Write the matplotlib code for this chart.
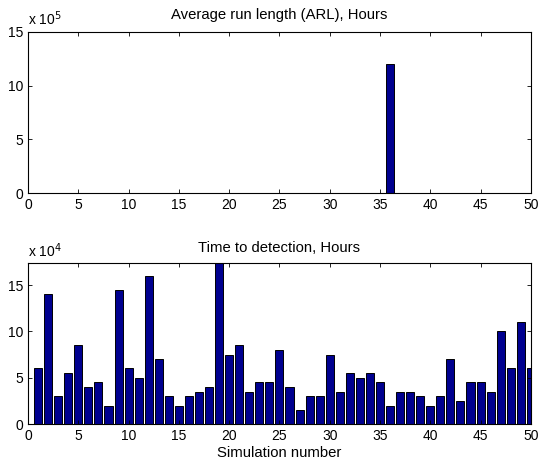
import numpy as np
import matplotlib
matplotlib.use("Agg")
import matplotlib.pyplot as plt

plt.rcParams['font.family'] = ['Liberation Sans', 'DejaVu Sans']

sim = np.arange(1, 51)
# Average run length (hours); only simulation 36 is non-zero
arl_hours = [0]*50
arl_hours[35] = 12.0e5
# Time to detection (x 10^4 hours)
tdet_e4 = [6, 14, 3, 5.5, 8.5, 4, 4.5, 2, 14.5, 6,
           5, 16, 7, 3, 2, 3, 3.5, 4, 17.4, 7.5,
           8.5, 3.5, 4.5, 4.5, 8, 4, 1.5, 3, 3, 7.5,
           3.5, 5.5, 5, 5.5, 4.5, 2, 3.5, 3.5, 3, 2,
           3, 7, 2.5, 4.5, 4.5, 3.5, 10, 6, 11, 6]
tdet_hours = [v*1e4 for v in tdet_e4]

xticks = list(range(0, 51, 5))
yticks = [0, 5, 10, 15]
face = '#00008F'

fig = plt.figure(figsize=(5.4, 4.66), dpi=100)
ax1 = fig.add_axes([0.052, 0.585, 0.931, 0.347])
ax2 = fig.add_axes([0.052, 0.090, 0.931, 0.346])

def style(ax):
    ax.set_xlim(0, 50)
    ax.set_xticks(xticks)
    ax.set_yticks(yticks)
    ax.tick_params(direction='in', length=3, width=0.6, labelsize=10,
                   top=True, right=True, pad=3.5, colors='black')
    for s in ax.spines.values():
        s.set_linewidth(0.8)

ax1.bar(sim, np.array(arl_hours)/1e5, width=0.8, color=face, edgecolor='black', linewidth=0.7)
ax1.set_ylim(0, 15)
style(ax1)
ax1.set_title('Average run length (ARL), Hours', fontsize=10.7, pad=9)
ax1.text(0.0, 1.02, r'x 10$^{5}$', transform=ax1.transAxes, fontsize=10, ha='left', va='bottom')

ax2.bar(sim, np.array(tdet_hours)/1e4, width=0.8, color=face, edgecolor='black', linewidth=0.7)
ax2.set_ylim(0, max(tdet_e4))
style(ax2)
ax2.set_title('Time to detection, Hours', fontsize=10.7, pad=8)
ax2.text(0.0, 1.02, r'x 10$^{4}$', transform=ax2.transAxes, fontsize=10, ha='left', va='bottom')
ax2.set_xlabel('Simulation number', fontsize=10.7, labelpad=2)

fig.savefig('out.png', dpi=100)
